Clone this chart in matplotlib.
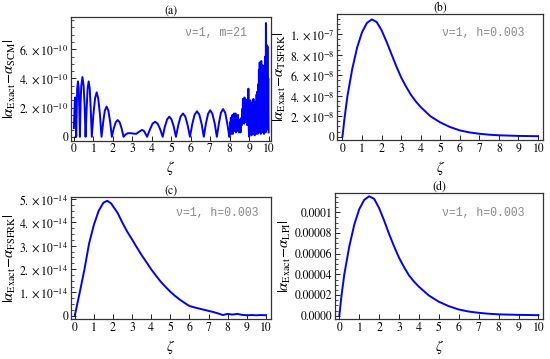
import numpy as np
import matplotlib
matplotlib.use('Agg')
import matplotlib.pyplot as plt
from matplotlib.ticker import AutoMinorLocator

plt.rcParams['font.family'] = ['STIXGeneral', 'DejaVu Serif']
plt.rcParams['mathtext.fontset'] = 'stix'

# ---- panel (a): |alpha_Exact - alpha_SCM|, values in 1e-10
a_zeta = [0.00, 0.03, 0.05, 0.07, 0.09, 0.105, 0.12,
          0.15, 0.17, 0.21, 0.25, 0.28, 0.31,
          0.345, 0.38, 0.44, 0.50, 0.55, 0.60,
          0.655, 0.705, 0.76, 0.815, 0.865, 0.92,
          1.00, 1.09, 1.17, 1.25, 1.34, 1.42,
          1.51, 1.59, 1.68, 1.77, 1.86, 1.95,
          2.05, 2.15, 2.25, 2.35, 2.45, 2.55,
          2.65, 2.75, 2.90, 3.05, 3.20, 3.35, 3.50, 3.60, 3.68, 3.76,
          3.91, 4.04, 4.17, 4.30, 4.43, 4.56,
          4.67, 4.79, 4.90, 5.01, 5.13, 5.24,
          5.36, 5.48, 5.60, 5.72, 5.84, 5.96,
          6.08, 6.20, 6.32, 6.44, 6.56, 6.67,
          6.78, 6.89, 7.00, 7.11, 7.23, 7.34,
          7.45, 7.55, 7.66, 7.77, 7.87, 7.98,
          8.00, 8.02, 8.04, 8.06, 8.08, 8.10, 8.12, 8.14, 8.16, 8.18,
          8.20, 8.22, 8.24, 8.26, 8.28, 8.30, 8.32, 8.34, 8.36, 8.38,
          8.40, 8.42, 8.44, 8.46, 8.48, 8.50, 8.52, 8.54, 8.56, 8.58,
          8.60, 8.62, 8.64, 8.66, 8.68, 8.70, 8.72, 8.74, 8.76, 8.78,
          8.80, 8.82, 8.84, 8.86, 8.88, 8.90, 8.92, 8.94, 8.96, 8.98,
          9.00, 9.02, 9.04, 9.06, 9.08, 9.10, 9.12, 9.14, 9.16, 9.18,
          9.20, 9.22, 9.24, 9.26, 9.28, 9.30, 9.32, 9.34, 9.36, 9.38,
          9.40, 9.42, 9.44, 9.46, 9.48, 9.50, 9.52, 9.54, 9.56, 9.58,
          9.60, 9.62, 9.64, 9.66, 9.68, 9.70, 9.72, 9.74, 9.76, 9.78,
          9.80, 9.82, 9.84, 9.86, 9.88, 9.90, 9.92, 9.94, 9.96, 9.98,
          10.00]
a_err = [0.6, 1.8, 2.5, 2.7, 2.3, 1.3, 0.0,
         1.9, 3.3, 3.8, 3.3, 1.9, 0.0,
         2.3, 3.5, 4.1, 3.5, 2.2, 0.0,
         1.9, 3.3, 3.8, 3.3, 1.9, 0.0,
         1.5, 2.65, 3.05, 2.65, 1.5, 0.0,
         1.05, 1.8, 2.07, 1.8, 1.05, 0.0,
         0.58, 1.0, 1.15, 1.0, 0.58, 0.0,
         0.15, 0.24, 0.25, 0.22, 0.20, 0.35, 0.47, 0.40, 0.20, 0.0,
         0.52, 0.90, 1.03, 0.90, 0.52, 0.0,
         0.69, 1.20, 1.38, 1.20, 0.69, 0.0,
         0.80, 1.39, 1.60, 1.39, 0.80, 0.0,
         0.88, 1.52, 1.75, 1.52, 0.88, 0.0,
         0.91, 1.58, 1.82, 1.58, 0.91, 0.0,
         0.95, 1.65, 1.90, 1.65, 0.95, 0.0,
         0.0, 1.0, 0.3, 1.3, 0.2, 1.1, 0.5, 1.5, 0.2, 1.2,
         0.6, 1.6, 0.4, 1.3, 0.8, 1.6, 0.3, 1.4, 0.7, 1.2,
         0.4, 1.5, 0.6, 1.1, 0.3, 0.9, 0.5, 1.2, 0.3, 1.0,
         1.3, 0.8, 1.9, 1.0, 2.6, 1.2, 2.4, 0.9, 2.7, 1.3,
         2.3, 1.0, 2.5, 1.4, 2.2, 0.8, 2.6, 1.1, 3.3, 0.5,
         0.0, 2.1, 0.2, 2.5, 0.4, 1.8, 0.1, 2.3, 0.3, 1.9,
         0.2, 2.6, 0.4, 2.0, 0.1, 1.7, 0.3, 2.4, 0.2, 2.9,
         0.4, 3.1, 0.2, 3.6, 0.5, 4.6, 0.3, 5.1, 0.6, 4.8,
         0.2, 5.2, 0.4, 4.4, 0.3, 4.9, 0.5, 2.6, 0.2, 3.8,
         0.4, 5.5, 0.3, 7.8, 1.0, 6.3, 0.8, 6.2, 0.5, 4.0,
         0.3]

# ---- panels (b) and (d): smooth humps
bd_zeta = [0, 0.1, 0.25, 0.5, 0.75, 1.0, 1.25, 1.5, 1.75, 2.0, 2.25, 2.5, 2.75,
           3.0, 3.25, 3.5, 3.75, 4.0, 4.5, 5.0, 5.5, 6.0, 6.5, 7.0, 7.5, 8.0,
           9.0, 10.0]
b_err = [0, 1.7, 3.9, 6.6, 8.7, 10.2, 11.1, 11.45, 11.2, 10.4, 9.3, 8.1, 6.9,
         5.8, 4.9, 4.1, 3.45, 2.9, 2.0, 1.4, 0.95, 0.62, 0.42, 0.29, 0.2, 0.14,
         0.08, 0.05]          # 1e-8
d_err = [0, 1.8, 4.0, 6.7, 8.8, 10.3, 11.2, 11.55, 11.3, 10.4, 9.2, 7.9, 6.7,
         5.6, 4.7, 3.9, 3.3, 2.8, 1.95, 1.35, 0.92, 0.6, 0.4, 0.28, 0.19, 0.13,
         0.08, 0.05]          # 1e-5

# ---- panel (c), values in 1e-14
c_zeta = [0, 0.25, 0.5, 0.75, 1.0, 1.25, 1.5, 1.7, 1.9, 2.0, 2.25, 2.5, 2.75,
          3.0, 3.25, 3.5, 3.75, 4.0, 4.25, 4.5, 4.75, 5.0, 5.25, 5.5, 5.75,
          6.0, 6.25, 6.5, 6.75, 7.0, 7.25, 7.5, 7.75, 8.0, 8.25, 8.5, 8.75,
          9.0, 9.25, 9.5, 9.75, 10.0]
c_err = [0, 0.96, 1.96, 3.1, 3.9, 4.5, 4.85, 4.93, 4.82, 4.7, 4.4, 3.98, 3.6,
         3.27, 2.93, 2.6, 2.3, 1.99, 1.72, 1.46, 1.24, 1.03, 0.85, 0.69, 0.55,
         0.42, 0.36, 0.31, 0.26, 0.21, 0.16, 0.10, 0.03, 0.08, 0.05, 0.08, 0.04,
         0.02, 0.03, 0.02, 0.03, 0.02]

a_yticks = [0, 2e-10, 4e-10, 6e-10]
a_ylabels = ['0', r'$2.\times10^{-10}$', r'$4.\times10^{-10}$', r'$6.\times10^{-10}$']
b_yticks = [0, 2e-8, 4e-8, 6e-8, 8e-8, 1e-7]
b_ylabels = ['0', r'$2.\times10^{-8}$', r'$4.\times10^{-8}$', r'$6.\times10^{-8}$',
             r'$8.\times10^{-8}$', r'$1.\times10^{-7}$']
c_yticks = [0, 1e-14, 2e-14, 3e-14, 4e-14, 5e-14]
c_ylabels = ['0', r'$1.\times10^{-14}$', r'$2.\times10^{-14}$', r'$3.\times10^{-14}$',
             r'$4.\times10^{-14}$', r'$5.\times10^{-14}$']
d_yticks = [0, 2e-5, 4e-5, 6e-5, 8e-5, 1e-4]
d_ylabels = ['0.0000', '0.00002', '0.00004', '0.00006', '0.00008', '0.0001']
xticks = list(range(11))

fig = plt.figure(figsize=(5.5, 3.59), dpi=100)

panels = [
    ([0.129, 0.608, 0.363, 0.344], a_zeta, np.array(a_err) * 1e-10, (-0.15, 10.1),
     (-0.27e-10, 8.2e-10), a_yticks, a_ylabels, 'SCM', '(a)', 'ν=1, m=21', (0.571, 0.873)),
    ([0.613, 0.610, 0.3745, 0.351], bd_zeta, np.array(b_err) * 1e-8, (-0.27, 10.26),
     (-0.32e-8, 11.98e-8), b_yticks, b_ylabels, 'TSFRK', '(b)', 'ν=1, h=0.003', (0.507, 0.849)),
    ([0.129, 0.1114, 0.363, 0.339], c_zeta, np.array(c_err) * 1e-14, (-0.2, 10.25),
     (-0.14e-14, 5.08e-14), c_yticks, c_ylabels, 'FSFRK', '(c)', 'ν=1, h=0.003', (0.524, 0.869)),
    ([0.609, 0.1114, 0.379, 0.352], bd_zeta, np.array(d_err) * 1e-5, (-0.22, 10.25),
     (-0.32e-5, 11.9e-5), d_yticks, d_ylabels, 'LPI', '(d)', 'ν=1, h=0.003', (0.512, 0.842)),
]

for rect, xs, ys, xl, yl, yt, ytl, sub, title, note, npos in panels:
    ax = fig.add_axes(rect)
    ax.plot(xs, ys, color='#0000ff', lw=1.4)
    ax.set_xlim(*xl)
    ax.set_ylim(*yl)
    ax.set_xticks(xticks)
    ax.set_xticklabels([str(t) for t in xticks], fontsize=8.5)
    ax.set_yticks(yt)
    ax.set_yticklabels(ytl, fontsize=8.5)
    ax.yaxis.set_minor_locator(AutoMinorLocator(4))
    ax.tick_params(direction='in', length=3.5, width=0.6, pad=2)
    ax.tick_params(which='minor', direction='in', length=2, width=0.5)
    for s in ax.spines.values():
        s.set_linewidth(0.9)
        s.set_color('#333333')
    ax.set_xlabel(r'$\zeta$', fontsize=10.5, labelpad=3)
    ax.set_ylabel(r'$|\alpha_{\rm Exact}\!-\!\alpha_{\rm %s}|$' % sub, fontsize=10.5, labelpad=1)
    ax.set_title(title, fontsize=8.5, pad=2)
    ax.text(npos[0], npos[1], note, transform=ax.transAxes, fontsize=8.3,
            family='Liberation Mono', color='#8a8a8a', va='center', ha='left')

fig.savefig('out.png', dpi=100)
